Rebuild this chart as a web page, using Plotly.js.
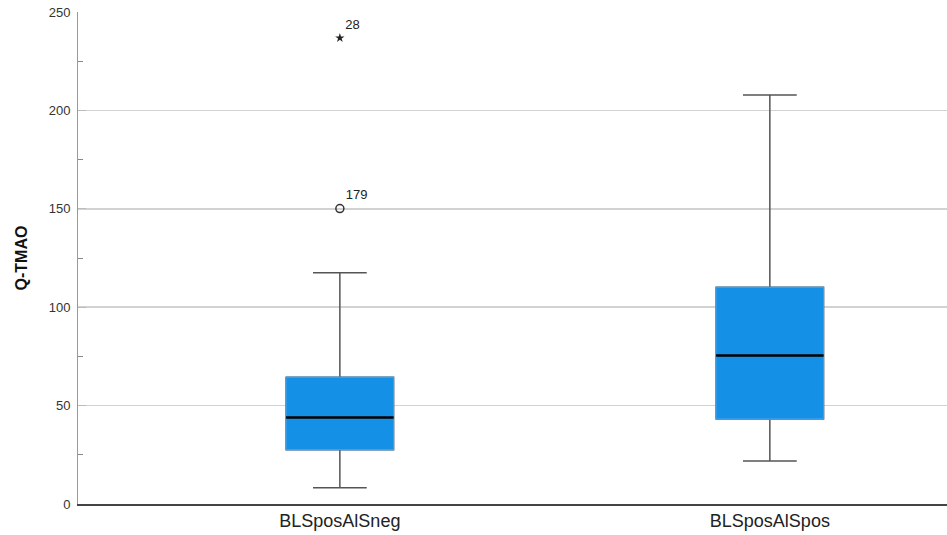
<!DOCTYPE html>
<html>
<head>
<meta charset="utf-8">
<script src="https://cdn.plot.ly/plotly-3.0.1.min.js"></script>
<style>
  html, body { margin: 0; padding: 0; background: #fff; }
  #chart { width: 947px; height: 535px; }
</style>
</head>
<body>
<div id="chart"></div>
<script>
// Group labels and their summary statistics for Q-TMAO
const groups = ['BLSposAlSneg', 'BLSposAlSpos'];
const lowerWhisker = [8.3, 21.8];
const q1Values = [27.6, 43.2];
const medians = [43.9, 75.5];
const q3Values = [64.4, 110.1];
const upperWhisker = [117.5, 207.8];

// Flagged cases: mild outlier (circle) and extreme outlier (star)
const outlierGroup = [0];
const outlierValues = [150.1];
const outlierIds = ['179'];
const extremeGroup = [0];
const extremeValues = [236.8];
const extremeIds = ['28'];

const positions = groups.map((g, i) => i);
const boxWidth = 0.25;
const font = 'Liberation Sans, Arial, sans-serif';

// Whiskers and caps
const whiskers = {
  type: 'box',
  x: positions,
  q1: q1Values,
  median: medians,
  q3: q3Values,
  lowerfence: lowerWhisker,
  upperfence: upperWhisker,
  width: boxWidth,
  whiskerwidth: 0.5,
  boxpoints: false,
  fillcolor: 'rgba(0,0,0,0)',
  line: { color: '#555555', width: 1.5 },
  hoverinfo: 'skip',
  showlegend: false
};

// Filled interquartile boxes (fences collapsed onto the quartiles)
const boxes = {
  type: 'box',
  x: positions,
  q1: q1Values,
  median: medians,
  q3: q3Values,
  lowerfence: q1Values,
  upperfence: q3Values,
  width: boxWidth,
  whiskerwidth: 1,
  boxpoints: false,
  fillcolor: '#1490e6',
  line: { color: '#3ea1eb', width: 1 },
  showlegend: false
};

// Median bars
const mx = [], my = [];
positions.forEach((p, i) => {
  mx.push(p - boxWidth / 2, p + boxWidth / 2, null);
  my.push(medians[i], medians[i], null);
});
const medianLines = {
  type: 'scatter',
  mode: 'lines',
  x: mx,
  y: my,
  line: { color: '#000000', width: 2.5 },
  hoverinfo: 'skip',
  showlegend: false
};

const outliers = {
  type: 'scatter',
  mode: 'markers+text',
  x: outlierGroup,
  y: outlierValues,
  text: outlierIds,
  textposition: 'top right',
  textfont: { family: font, size: 13, color: '#222222' },
  marker: { symbol: 'circle-open', size: 8, color: '#333333', line: { width: 1.5 } },
  showlegend: false
};

const extremes = {
  type: 'scatter',
  mode: 'markers+text',
  x: extremeGroup,
  y: extremeValues,
  text: extremeIds,
  textposition: 'top right',
  textfont: { family: font, size: 13, color: '#222222' },
  marker: { symbol: 'star', size: 7, color: '#222222' },
  showlegend: false
};

const layout = {
  width: 947,
  height: 535,
  margin: { l: 78, r: 0, t: 12, b: 31 },
  paper_bgcolor: '#ffffff',
  plot_bgcolor: '#ffffff',
  boxmode: 'overlay',
  font: { family: font, color: '#333333' },
  xaxis: {
    range: [-0.609, 1.412],
    tickvals: positions,
    ticktext: groups,
    ticks: '',
    tickfont: { size: 18, color: '#222222' },
    showgrid: false,
    zeroline: false,
    showline: true,
    linecolor: '#444444',
    linewidth: 1.5
  },
  yaxis: {
    range: [0, 250],
    tickvals: [0, 50, 100, 150, 200, 250],
    ticks: 'inside',
    ticklen: 8,
    tickcolor: '#bbbbbb',
    tickfont: { size: 13, color: '#333333' },
    ticklabelstandoff: 4,
    showgrid: true,
    gridcolor: '#d2d2d2',
    gridwidth: 1.5,
    zeroline: false,
    showline: true,
    linecolor: '#999999',
    linewidth: 1,
    minor: { dtick: 25, ticks: 'inside', ticklen: 5, tickcolor: '#888888', showgrid: false },
    title: { text: 'Q-TMAO', font: { size: 16, color: '#111111', weight: 'bold' }, standoff: 17 }
  }
};

Plotly.newPlot('chart', [whiskers, boxes, medianLines, outliers, extremes], layout, { displayModeBar: false, staticPlot: true });
</script>
</body>
</html>
